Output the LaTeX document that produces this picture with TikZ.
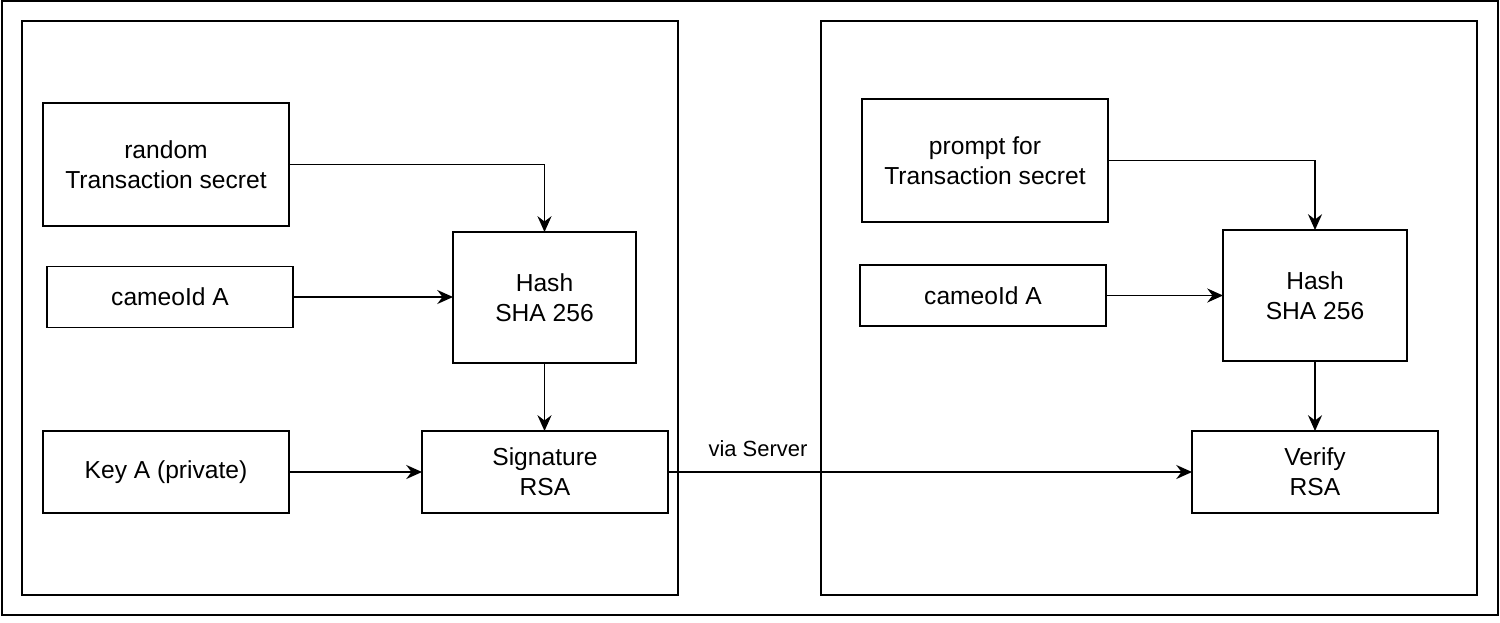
\documentclass[tikz,border=0pt]{standalone}
\usepackage{fontspec}
\setmainfont{Liberation Sans}
\usetikzlibrary{arrows.meta}
\begin{document}
\begin{tikzpicture}[x=0.02cm,y=-0.02cm,
  frame/.style={draw, line width=1pt},
  box/.style={draw, line width=1pt, inner sep=0pt, outer sep=0pt, align=center,
    font=\fontsize{14}{17}\selectfont},
  wide/.style={box, minimum width=4.92cm},
  arr/.style={line width=1pt, -{Stealth[length=9pt,width=8pt,inset=3pt]}},
  lbl/.style={font=\fontsize{12.5}{15}\selectfont, inner sep=0pt}]
\useasboundingbox (0,0) rectangle (1500,622);
\draw[frame] (2,1) rectangle (1498,615);
\draw[frame] (22,21) rectangle (678,595);
\draw[frame] (821,21) rectangle (1477,595);
% left side
\node[wide, minimum height=2.46cm] (random) at (166,164.5) {random\\Transaction secret};
\node[wide, minimum height=1.22cm] (cameoL) at (170,297) {cameoId A};
\node[wide, minimum height=1.64cm] (keyL) at (166,472) {Key A (private)};
\node[box, minimum width=3.66cm, minimum height=2.62cm] (hashL) at (544.5,297.5) {Hash\\SHA 256};
\node[wide, minimum height=1.64cm] (sigL) at (545,472) {Signature\\RSA};
% right side
\node[wide, minimum height=2.46cm] (prompt) at (985,160.5) {prompt for\\Transaction secret};
\node[wide, minimum height=1.22cm] (cameoR) at (983,295.5) {cameoId A};
\node[box, minimum width=3.68cm, minimum height=2.62cm] (hashR) at (1315,295.5) {Hash\\SHA 256};
\node[wide, minimum height=1.64cm] (verify) at (1315,472) {Verify\\RSA};
% connectors
\draw[arr] (random.east) -| (hashL.north);
\draw[arr] (cameoL.east) -- (hashL.west |- cameoL.east);
\draw[arr] (hashL.south) -- (sigL.north -| hashL.south);
\draw[arr] (keyL.east) -- (sigL.west);
\draw[arr] (prompt.east) -| (hashR.north);
\draw[arr] (cameoR.east) -- (hashR.west |- cameoR.east);
\draw[arr] (hashR.south) -- (verify.north);
\draw[arr] (sigL.east) -- (verify.west);
\node[lbl] (via) at (758,449) {via Server};
\end{tikzpicture}
\end{document}
